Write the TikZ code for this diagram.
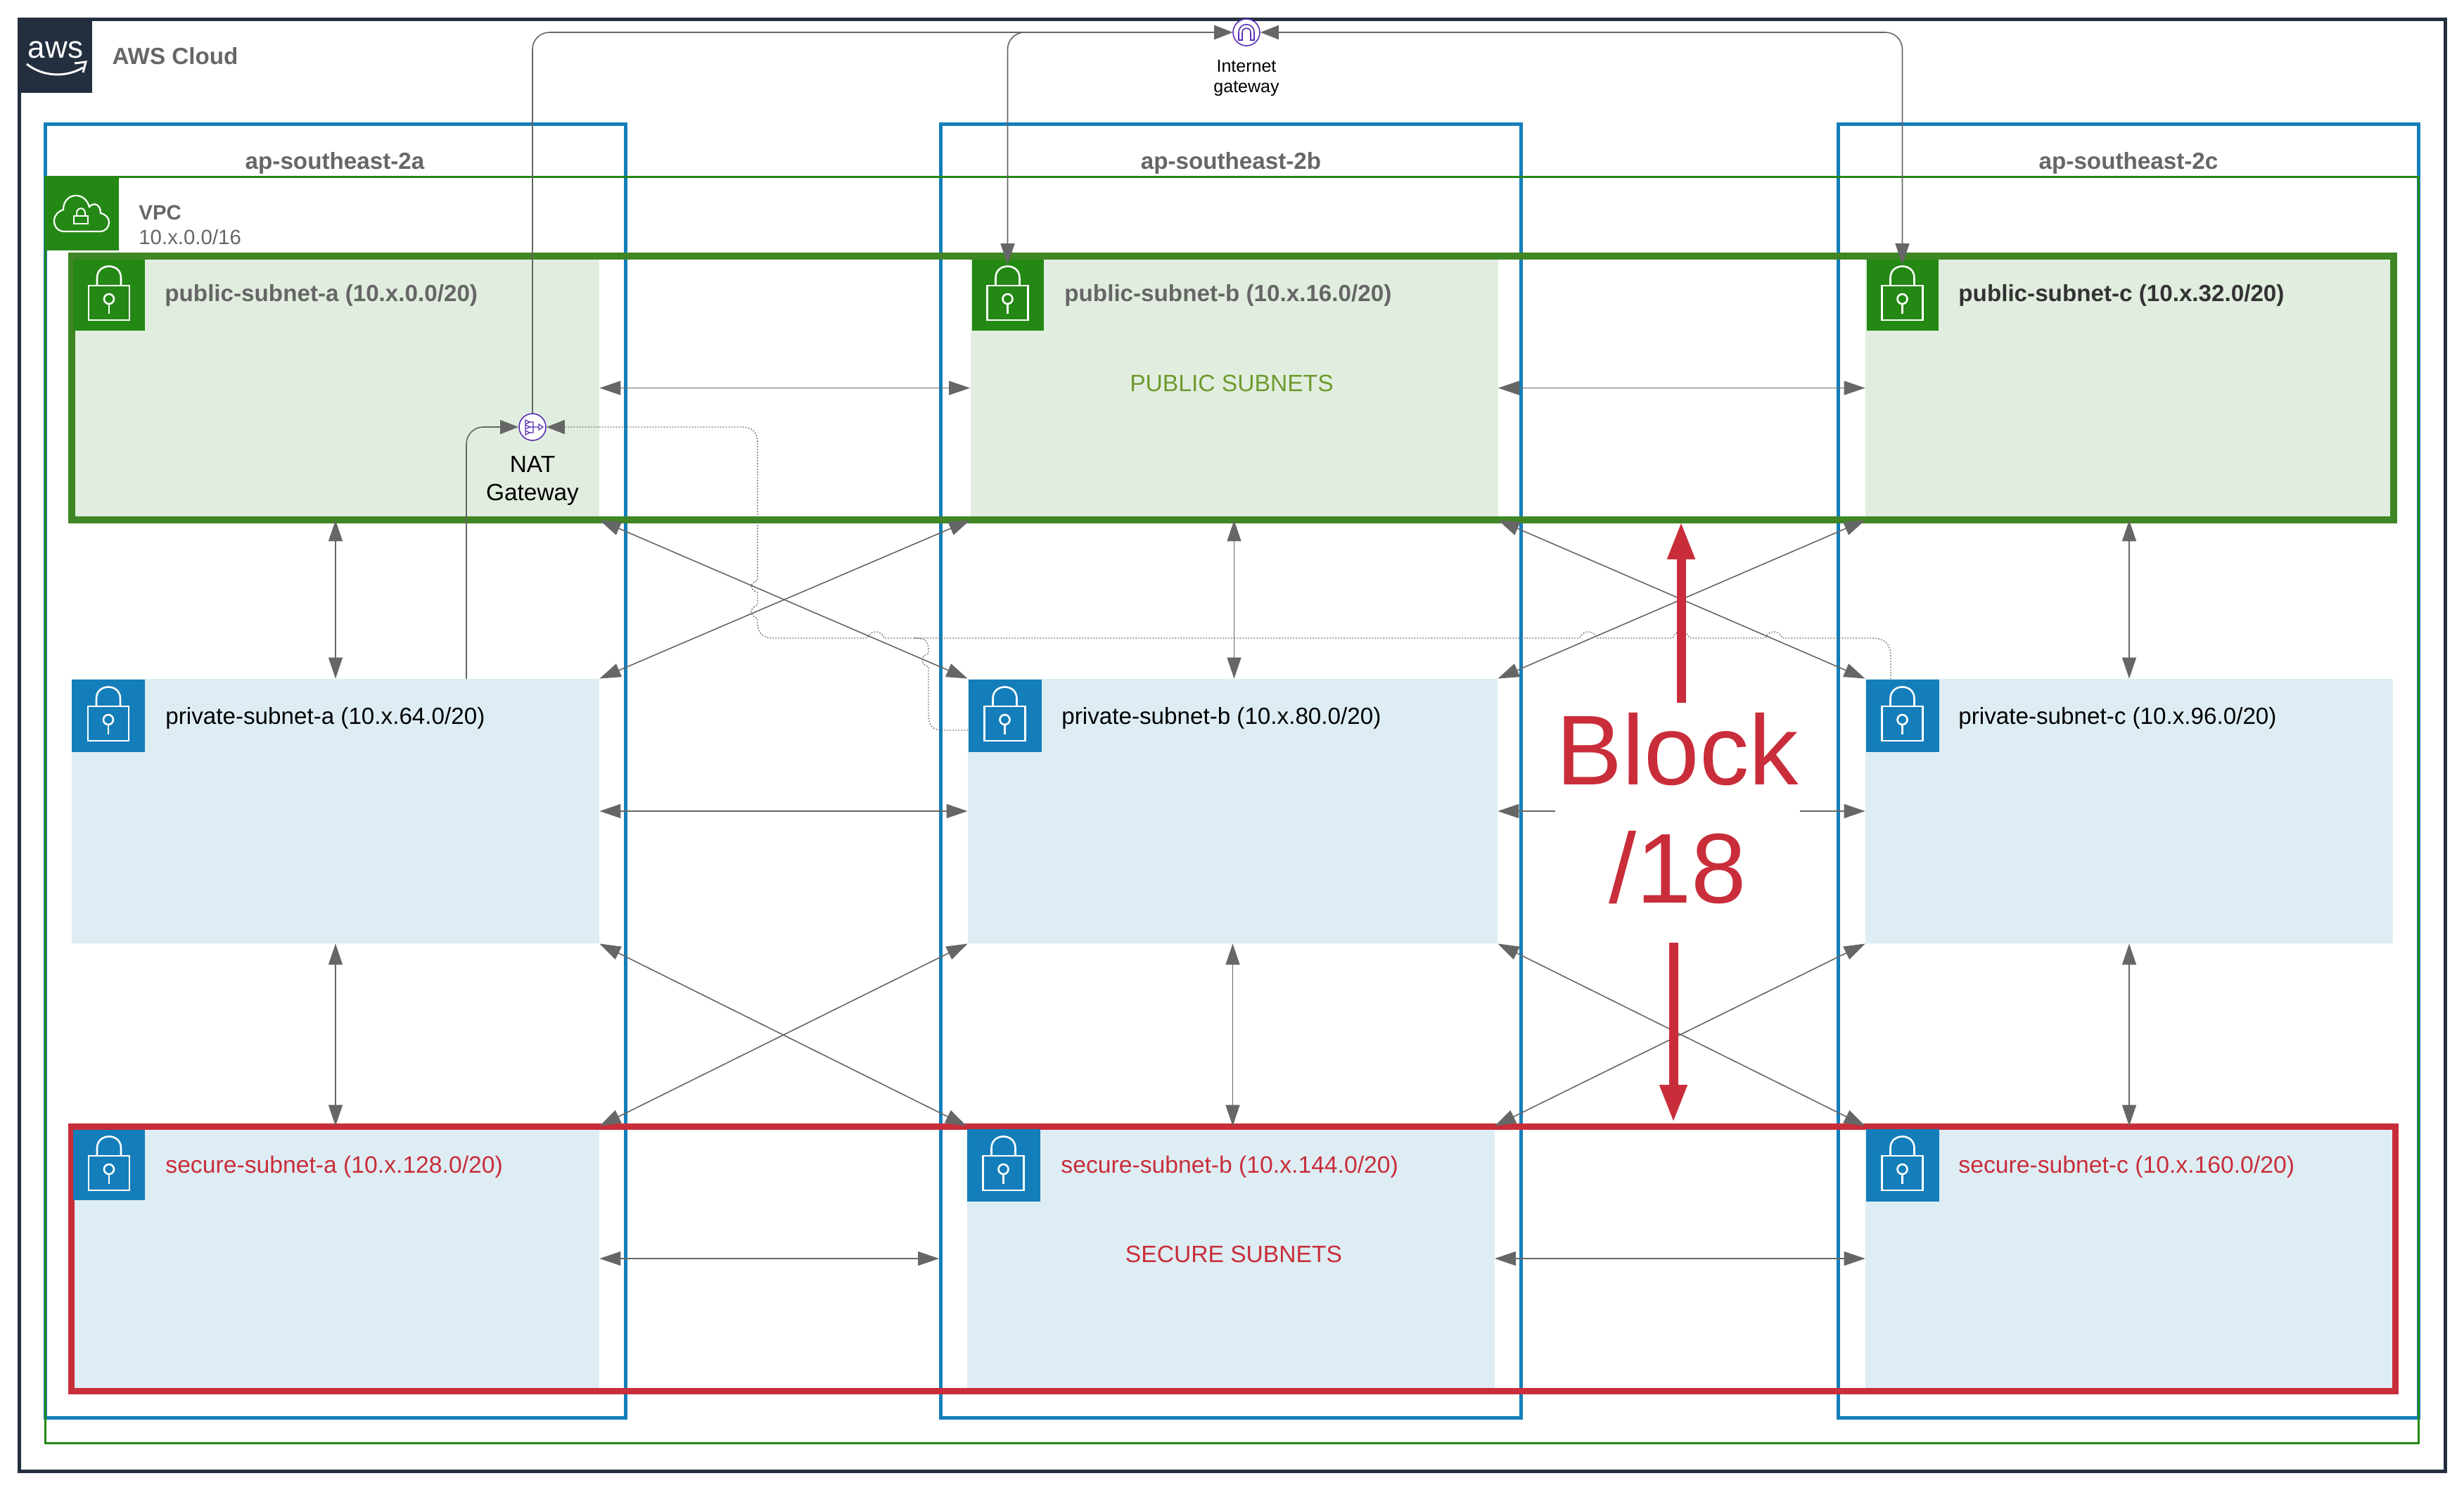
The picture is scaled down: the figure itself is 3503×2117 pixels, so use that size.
\documentclass[tikz,border=0pt]{standalone}
\usepackage{fontspec}
\setmainfont{Liberation Sans}
\usetikzlibrary{arrows.meta}
\definecolor{awsdark}{HTML}{232F3E}
\definecolor{vpcgreen}{HTML}{248814}
\definecolor{pubgreen}{HTML}{3F8624}
\definecolor{azblue}{HTML}{147EBA}
\definecolor{blockred}{HTML}{C92D39}
\definecolor{pubfill}{HTML}{E1EEDF}
\definecolor{prifill}{HTML}{DEEDF4}
\definecolor{linegray}{HTML}{666666}
\definecolor{gwpurple}{HTML}{5A30B5}
\definecolor{puboliv}{HTML}{6E9A2E}
\tikzset{
  azbox/.style={draw=azblue,line width=2.5pt,minimum width=412.5pt,minimum height=919.5pt},
  pubnet/.style={fill=pubfill,inner sep=0,minimum width=375pt,minimum height=187.5pt},
  prinet/.style={fill=prifill,inner sep=0,minimum width=375pt,minimum height=188pt},
  pubicon/.style={fill=vpcgreen,inner sep=0,minimum width=51pt,minimum height=50.5pt},
  priicon/.style={fill=azblue,inner sep=0,minimum width=52pt,minimum height=51.5pt},
  txt/.style={font=\fontsize{16.6}{20}\selectfont,inner sep=0},
  sectxt/.style={txt,font=\fontsize{16.85}{20}\selectfont,text=blockred},
  boldtxt/.style={txt,font=\fontsize{16.6}{20}\selectfont\bfseries,text=linegray},
  gwnode/.style={circle,draw=gwpurple,line width=0.8pt,fill=white,inner sep=0,minimum size=19pt},
  biarrow/.style={draw=linegray,line width=0.8pt,{Triangle[length=15pt,width=10pt]}-{Triangle[length=15pt,width=10pt]}},
  toarrow/.style={draw=linegray,line width=0.8pt,-{Triangle[length=13pt,width=10pt]},rounded corners=12pt},
  dotline/.style={draw=linegray,line width=0.7pt,dash pattern=on 0.8pt off 1.2pt,-{Triangle[length=13pt,width=10pt]}},
  redarrow/.style={draw=blockred,line width=6.5pt,-{Triangle[length=27pt,width=18pt]}},
  lockpic/.pic={
    \draw[white,line width=1.3pt] (-29,-13) rectangle (29,36);
    \draw[white,line width=1.3pt] (-17,-13) -- (-17,-24) .. controls (-17,-46) and (17,-46) .. (17,-24) -- (17,-13);
    \draw[white,line width=1.3pt] (0,6) circle [radius=7];
    \draw[white,line width=1.3pt] (0,13) -- (0,27);
  }
}
\begin{document}
\begin{tikzpicture}[x=0.5pt,y=-0.5pt]
\useasboundingbox (0,0) rectangle (3503,2117);
\draw[awsdark,line width=2.5pt] (27,27) rectangle (3476,2091);
% zones
\node[azbox] (aza) at (476.5,1095.5) {};
\node[azbox] (azb) at (1750,1095.5) {};
\node[azbox] (azc) at (3026,1095.5) {};
\node[boldtxt] (lblaza) at (476,232) {ap-southeast-2a};
\node[boldtxt] (lblazb) at (1750,232) {ap-southeast-2b};
\node[boldtxt] (lblazc) at (3026,232) {ap-southeast-2c};
\draw[vpcgreen,line width=1.5pt] (64,251) rectangle (3438,2051);
% subnets
\node[pubnet] (puba) at (477,551.5) {};
\node[pubnet] (pubb) at (1754.5,551.5) {};
\node[pubnet] (pubc) at (3027,551.5) {};
\node[prinet] (pria) at (477,1153) {};
\node[prinet,minimum width=376.5pt] (prib) at (1752.5,1153) {};
\node[prinet] (pric) at (3027,1153) {};
\node[prinet] (seca) at (477,1789) {};
\node[prinet] (secb) at (1749.5,1789) {};
\node[prinet] (secc) at (3027,1789) {};
\draw[pubgreen,line width=5pt] (102,364) rectangle (3403,739);
\draw[blockred,line width=4.5pt] (101,1601) rectangle (3405,1977);
% logo and vpc tag
\node[fill=awsdark,inner sep=0,minimum width=52pt,minimum height=52.5pt] (awslogo) at (79,79.5) {};
\node[inner sep=0,text=white,font=\fontsize{22}{22}\selectfont] (awstxt) at (79,71) {aws};
\draw[white,line width=1.5pt] (38,91) .. controls (62,110) and (95,110) .. (118,96);
\draw[white,line width=1.5pt] (106,90) -- (122,88) -- (118,103);
\node[boldtxt] (lblaws) at (249,80) {AWS Cloud};
\node[fill=vpcgreen,inner sep=0,minimum width=52.5pt,minimum height=53pt] (vpcicon) at (116.5,303) {};
\draw[white,line width=1.1pt] (92,329) .. controls (82,329) and (77,322) .. (77,314) .. controls (77,306) and (83,300) .. (90,298) .. controls (90,286) and (98,278) .. (108,278) .. controls (117,278) and (124,284) .. (127,294) .. controls (133,287) and (143,290) .. (143,303) .. controls (151,305) and (155,310) .. (155,316) .. controls (155,323) and (150,329) .. (142,329) -- cycle;
\draw[white,line width=1pt] (105,307) rectangle (125,318);
\draw[white,line width=1pt] (109,307) -- (109,303) .. controls (109,294) and (121,294) .. (121,303) -- (121,307);
\node[boldtxt,anchor=west,font=\fontsize{14.7}{18}\selectfont\bfseries] (lblvpc) at (197,302) {VPC};
\node[txt,anchor=west,text=linegray,font=\fontsize{14.7}{18}\selectfont] (lblcidr) at (197,337) {10.x.0.0/16};
% connectors between subnets
\draw[biarrow] (puba.east) -- (pubb.west);
\draw[biarrow] (pubb.east) -- (pubc.west);
\draw[biarrow] (pria.east) -- (prib.west);
\draw[biarrow] (prib.east) -- (pric.west);
\draw[biarrow] (seca.east) -- (seca.east -| azb.west);
\draw[biarrow] (secb.east) -- (secc.west);
\draw[biarrow] (puba.south) -- (pria.north);
\draw[biarrow] (pubb.south) -- (pubb.south |- prib.north);
\draw[biarrow] (pubc.south) -- (pric.north);
\draw[biarrow] (pria.south) -- (seca.north);
\draw[biarrow] (prib.south) -- (prib.south |- secb.north);
\draw[biarrow] (pric.south) -- (secc.north);
\draw[biarrow] (puba.south east) -- (prib.north west);
\draw[biarrow] (pubb.south west) -- (pria.north east);
\draw[biarrow] (pubb.south east) -- (pric.north west);
\draw[biarrow] (pubc.south west) -- (prib.north east);
\draw[biarrow] (pria.south east) -- (secb.north west);
\draw[biarrow] (prib.south west) -- (seca.north east);
\draw[biarrow] (prib.south east) -- (secc.north west);
\draw[biarrow] (pric.south west) -- (secb.north east);
% lock tags
\node[pubicon] (ipuba) at (155,419) {};
\node[pubicon] (ipubb) at (1432.5,419) {};
\node[pubicon] (ipubc) at (2704.5,419) {};
\node[priicon] (ipria) at (154,1017) {};
\node[priicon] (iprib) at (1428.5,1017) {};
\node[priicon] (ipric) at (2704.5,1017) {};
\node[priicon,minimum width=51pt,minimum height=50pt] (iseca) at (155,1656) {};
\node[priicon] (isecb) at (1426.5,1656) {};
\node[priicon] (isecc) at (2704.5,1656) {};
\pic at (ipuba) {lockpic};
\pic at (ipubb) {lockpic};
\pic at (ipubc) {lockpic};
\pic at (ipria) {lockpic};
\pic at (iprib) {lockpic};
\pic at (ipric) {lockpic};
\pic at (iseca) {lockpic};
\pic at (isecb) {lockpic};
\pic at (isecc) {lockpic};
% subnet names
\node[boldtxt,anchor=west] (lblpuba) at (234,420) {public-subnet-a (10.x.0.0/20)};
\node[boldtxt,anchor=west] (lblpubb) at (1513,420) {public-subnet-b (10.x.16.0/20)};
\node[boldtxt,anchor=west,text=black!80] (lblpubc) at (2784,420) {public-subnet-c (10.x.32.0/20)};
\node[txt,anchor=west] (lblpria) at (235,1021) {private-subnet-a (10.x.64.0/20)};
\node[txt,anchor=west] (lblprib) at (1509,1021) {private-subnet-b (10.x.80.0/20)};
\node[txt,anchor=west] (lblpric) at (2784,1021) {private-subnet-c (10.x.96.0/20)};
\node[sectxt,anchor=west] (lblseca) at (235,1659) {secure-subnet-a (10.x.128.0/20)};
\node[sectxt,anchor=west] (lblsecb) at (1508,1659) {secure-subnet-b (10.x.144.0/20)};
\node[sectxt,anchor=west] (lblsecc) at (2784,1659) {secure-subnet-c (10.x.160.0/20)};
\node[txt,text=puboliv,font=\fontsize{16.8}{20}\selectfont] (lblpublic) at (1751,545) {PUBLIC SUBNETS};
\node[txt,text=blockred,font=\fontsize{16.8}{20}\selectfont] (lblsecure) at (1754,1783) {SECURE SUBNETS};
% gateways
\node[gwnode] (igw) at (1772,46) {};
\draw[gwpurple,line width=0.8pt] (1761,57) -- (1761,46) .. controls (1761,31) and (1783,31) .. (1783,46) -- (1783,57) -- (1778,57) -- (1778,46) .. controls (1778,38) and (1766,38) .. (1766,46) -- (1766,57) -- cycle;
\node[txt,align=center,font=\fontsize{12.5}{14.5}\selectfont] (lbligw) at (1772,111) {Internet\\gateway};
\node[gwnode] (nat) at (757,607) {};
\draw[gwpurple,line width=0.6pt] (747,597) -- (753,600) -- (747,603) -- cycle (747,604) -- (753,607) -- (747,610) -- cycle (747,612) -- (753,615) -- (747,618) -- cycle;
\draw[gwpurple,line width=0.6pt] (753,600) -- (758,600) -- (758,615) -- (753,615) (753,607) -- (766,607) (766,603) -- (772,607) -- (766,611) -- cycle;
\node[txt,align=center,font=\fontsize{16.7}{20}\selectfont] (lblnat) at (757,683) {NAT\\Gateway};
\coordinate (priaout) at (663,965);
\coordinate (pricout) at (2688,965);
\coordinate (pribout) at (1376,1038);
\draw[toarrow] (nat.north) |- (igw.west);
\draw[toarrow,{Triangle[length=15pt,width=10pt]}-{Triangle[length=13pt,width=10pt]},shorten <=-4pt] (ipubb.north) |- (igw.west);
\draw[toarrow,{Triangle[length=15pt,width=10pt]}-{Triangle[length=13pt,width=10pt]},shorten <=-4pt] (ipubc.north) |- (igw.east);
\draw[toarrow] (priaout) |- (nat.west);
\draw[dotline] (pricout) -- (2688,935) .. controls (2688,915) and (2680,907) .. (2660,907) -- (2534,907) .. controls (2530,895) and (2514,895) .. (2510,907) -- (2402,907) .. controls (2398,895) and (2382,895) .. (2378,907) -- (2270,907) .. controls (2266,895) and (2250,895) .. (2246,907) -- (1257,907) .. controls (1253,895) and (1237,895) .. (1233,907) -- (1100,907) .. controls (1084,907) and (1077,900) .. (1077,885) -- (1077,879) .. controls (1065,875) and (1065,864) .. (1077,860) -- (1077,842) .. controls (1065,838) and (1065,829) .. (1077,825) -- (1077,630) .. controls (1077,615) and (1070,607) .. (1055,607) -- (nat.east);
\draw[draw=linegray,line width=0.7pt,dash pattern=on 0.8pt off 1.2pt] (pribout) -- (1340,1038) .. controls (1325,1038) and (1320,1030) .. (1320,1015) -- (1320,948) .. controls (1308,944) and (1308,933) .. (1320,929) -- (1320,925) .. controls (1320,912) and (1316,907) .. (1300,907);
% block marker
\node[fill=white,inner sep=0,minimum width=174pt,minimum height=150pt,align=center,text=blockred,font=\fontsize{70.5}{84}\selectfont] (block) at (2385,1149.5) {Block\\/18};
\coordinate (blockup) at (2390,741);
\coordinate (blockdn) at (2379,1596);
\coordinate (blocklow) at (2379,1340);
\coordinate (blocktop) at (2390,999);
\draw[redarrow] (blocktop) -- (blockup);
\draw[redarrow] (blocklow) -- (blockdn);
\end{tikzpicture}
\end{document}
